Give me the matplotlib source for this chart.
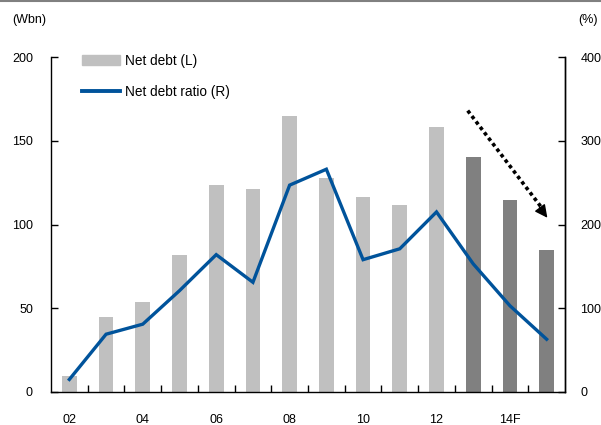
import numpy as np
import matplotlib.pyplot as plt
from matplotlib.lines import Line2D

plt.rcParams['font.family'] = ['Liberation Sans', 'DejaVu Sans']

# Net debt (Wbn, left axis) and net debt ratio (%, right axis), 2002-2015
years = ['02', '03', '04', '05', '06', '07', '08', '09', '10', '11', '12', '13', '14F', '15F']
tick_labels = ['02', '', '04', '', '06', '', '08', '', '10', '', '12', '', '14F', '']
net_debt = [9.5, 45, 54, 82, 123.5, 121, 165, 127.5, 116.5, 111.5, 158.5, 140.5, 114.5, 84.5]
net_debt_ratio = [15, 69, 81, 121, 164, 131, 247, 266, 158, 171, 215, 153, 103, 63]
forecast_from = 11  # index where the darker (forecast) bars start

light = '#c0c0c0'
dark = '#808080'
blue = '#00539b'
fs = 9

fig = plt.figure(figsize=(6.01, 4.25), dpi=100)
ax = fig.add_axes([51 / 601, 1 - 392 / 425, 514 / 601, 335 / 425])
ax2 = ax.twinx()

x = np.arange(len(years))
colors = [light if i < forecast_from else dark for i in x]
ax.bar(x, net_debt, width=0.4, color=colors, zorder=2)
ax2.plot(x, net_debt_ratio, color=blue, lw=2.4, solid_joinstyle='miter', zorder=3)

ax.set_xlim(-0.5, 13.5)
ax.set_ylim(0, 200)
ax2.set_ylim(0, 400)
ax.set_yticks([0, 50, 100, 150, 200])
ax2.set_yticks([0, 100, 200, 300, 400])

# labels under each category, small tick marks between categories
ax.set_xticks(x)
ax.set_xticklabels(tick_labels)
ax.set_xticks(x[:-1] + 0.5, minor=True)
ax.tick_params(axis='x', which='major', length=0, pad=16, labelsize=fs)
ax.tick_params(axis='x', which='minor', direction='in', length=5, width=1)
ax.tick_params(axis='y', direction='in', length=5, width=1, pad=13, labelsize=fs)
ax2.tick_params(axis='y', direction='in', length=5, width=1, pad=11, labelsize=fs)

for a in (ax, ax2):
    a.spines['top'].set_visible(False)
    for s in a.spines.values():
        s.set_linewidth(1)
ax2.spines['left'].set_visible(False)
ax2.spines['bottom'].set_visible(False)

fig.text(12 / 601, 1 - 20 / 425, '(Wbn)', fontsize=fs, va='center', ha='left')
fig.text(598 / 601, 1 - 20 / 425, '(%)', fontsize=fs, va='center', ha='right')

# dotted arrow showing the expected decline: dotted shaft plus a solid head
start = np.array([10.85, 168.0])
end = np.array([12.9, 109.0])
tip = np.array([13.02, 104.0])
ax.plot([start[0], end[0]], [start[1], end[1]], color='black', lw=2.6,
        linestyle=(0, (1, 0.9)), zorder=4)
ax.annotate('', xy=tip, xytext=tip - 0.1 * (tip - start),
            arrowprops=dict(arrowstyle='-|>,head_length=0.7,head_width=0.35',
                            color='black', lw=1, mutation_scale=11,
                            shrinkA=0, shrinkB=0),
            zorder=4)

handles = [plt.Rectangle((0, 0), 1, 1, color=light),
           Line2D([0], [0], color=blue, lw=2.8)]
ax.legend(handles, ['Net debt (L)', 'Net debt ratio (R)'], loc='upper left',
          bbox_to_anchor=(0.06, 1.01), frameon=False, fontsize=9.8, borderpad=0,
          borderaxespad=0, handlelength=2.8, handleheight=0.8, handletextpad=0.35,
          labelspacing=1.3)

# thin rule along the top edge
fig.add_artist(Line2D([0, 1], [0.998, 0.998], color='#808080', lw=1.5,
                      transform=fig.transFigure))

fig.savefig('out.png', dpi=100)
